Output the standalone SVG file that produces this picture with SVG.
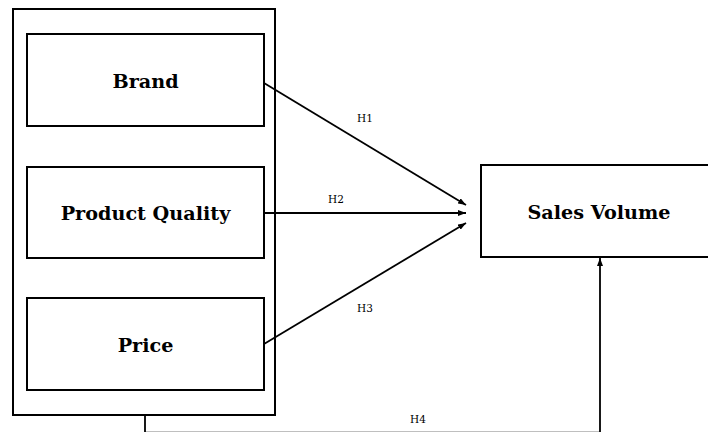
<svg xmlns="http://www.w3.org/2000/svg" width="708" height="432" viewBox="0 0 708 432">
<style>
.box{fill:#fff;stroke:#000;stroke-width:2}
.lbl{font-family:"DejaVu Serif",serif;font-weight:bold;font-size:19.2px;text-anchor:middle;dominant-baseline:central;fill:#000}
.h{font-family:"DejaVu Serif",serif;font-size:10.5px;text-anchor:middle;fill:#000}
.c{fill:none;stroke:#000;stroke-width:1.8}
</style>
<defs>
<marker id="ah" viewBox="0 0 8 6" refX="8" refY="3" markerWidth="8" markerHeight="6" markerUnits="userSpaceOnUse" orient="auto">
<path d="M0,0 L8,3 L0,6 Z" fill="#000"/>
</marker>
</defs>
<rect width="708" height="432" fill="#fff"/>
<g id="group">
<rect class="box" x="13" y="9" width="262" height="406"/>
</g>
<g id="brand">
<rect class="box" x="27" y="34" width="237" height="92"/>
<text class="lbl" x="145.5" y="81">Brand</text>
</g>
<g id="quality">
<rect class="box" x="27" y="167" width="237" height="91"/>
<text class="lbl" x="145.5" y="213">Product Quality</text>
</g>
<g id="price">
<rect class="box" x="27" y="298" width="237" height="92"/>
<text class="lbl" x="145.5" y="345">Price</text>
</g>
<g id="sales">
<rect class="box" x="481" y="165" width="240" height="92"/>
<text class="lbl" x="599" y="212">Sales Volume</text>
</g>
<g id="connectors">
<path class="c" d="M145,415 V432.6 H600 V258" marker-end="url(#ah)" stroke-opacity="1"/>
<line class="c" x1="264" y1="83" x2="466" y2="205" marker-end="url(#ah)"/>
<line class="c" x1="264" y1="213" x2="466" y2="213" marker-end="url(#ah)"/>
<line class="c" x1="264" y1="344" x2="466" y2="223" marker-end="url(#ah)"/>
<text class="h" x="365" y="122">H1</text>
<text class="h" x="336" y="203">H2</text>
<text class="h" x="365" y="312">H3</text>
<text class="h" x="418" y="423">H4</text>
</g>
</svg>
